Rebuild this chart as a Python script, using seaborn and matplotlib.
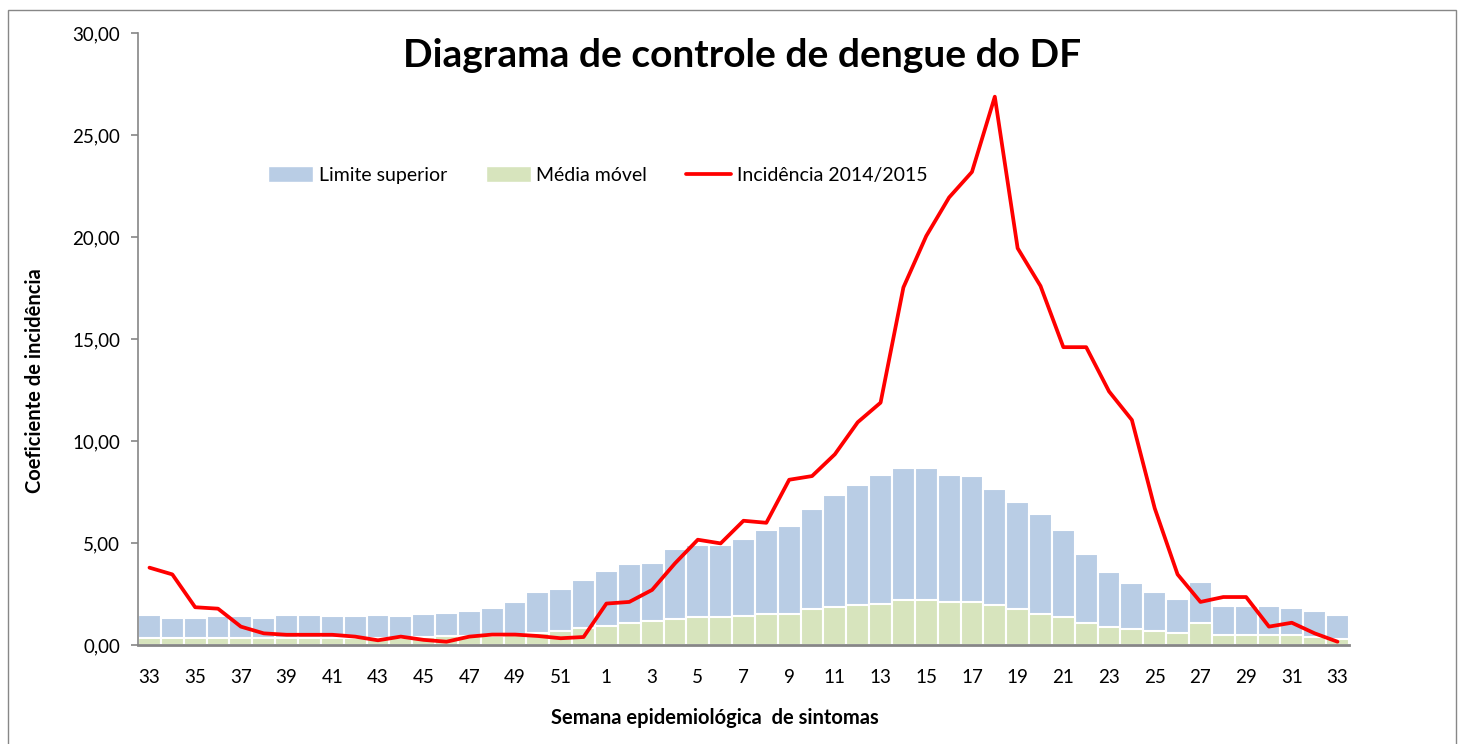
import numpy as np
import pandas as pd
import seaborn as sns
import matplotlib.pyplot as plt
from matplotlib.patches import Patch, Rectangle
from matplotlib.lines import Line2D

# Semanas epidemiologicas: 33/2014 ate 33/2015
semanas = list(range(33, 53)) + list(range(1, 34))

limite_superior = [1.47, 1.30, 1.30, 1.42, 1.42, 1.30, 1.47, 1.47, 1.42, 1.42,
                   1.47, 1.42, 1.50, 1.58, 1.67, 1.83, 2.09, 2.60, 2.76, 3.19,
                   3.61, 3.95, 4.04, 4.72, 4.88, 4.88, 5.21, 5.64, 5.81, 6.67,
                   7.33, 7.84, 8.35, 8.70, 8.70, 8.35, 8.26, 7.67, 7.01, 6.40,
                   5.64, 4.46, 3.60, 3.02, 2.58, 2.24, 3.09, 1.91, 1.91, 1.91,
                   1.83, 1.65, 1.49]

media_movel = [0.33, 0.32, 0.32, 0.33, 0.33, 0.32, 0.33, 0.33, 0.33, 0.32,
               0.33, 0.35, 0.40, 0.45, 0.45, 0.46, 0.47, 0.60, 0.68, 0.85,
               0.93, 1.09, 1.18, 1.26, 1.37, 1.37, 1.41, 1.50, 1.50, 1.76,
               1.85, 1.94, 2.03, 2.20, 2.20, 2.11, 2.11, 1.95, 1.75, 1.50,
               1.36, 1.09, 0.90, 0.77, 0.69, 0.57, 1.09, 0.47, 0.47, 0.47,
               0.47, 0.39, 0.29]

incidencia = [3.79, 3.46, 1.85, 1.78, 0.90, 0.57, 0.50, 0.50, 0.50, 0.41,
              0.23, 0.41, 0.25, 0.16, 0.41, 0.51, 0.51, 0.44, 0.33, 0.39,
              2.03, 2.11, 2.70, 4.00, 5.16, 4.98, 6.09, 5.99, 8.10, 8.28,
              9.35, 10.92, 11.88, 17.53, 20.05, 21.94, 23.19, 26.88, 19.45, 17.60,
              14.60, 14.60, 12.43, 11.03, 6.70, 3.46, 2.11, 2.35, 2.35, 0.90,
              1.09, 0.57, 0.16]

y_ticks = [0, 5, 10, 15, 20, 25, 30]
y_tick_labels = ['0,00', '5,00', '10,00', '15,00', '20,00', '25,00', '30,00']

df = pd.DataFrame({'pos': range(len(semanas)), 'semana': semanas,
                   'limite': limite_superior, 'media': media_movel,
                   'incid': incidencia})

azul = '#B9CDE5'
verde = '#D7E4BD'
vermelho = '#FF0000'

sns.set_style('white')
plt.rcParams['font.family'] = ['Lato', 'DejaVu Sans']
plt.rcParams['text.color'] = 'black'
plt.rcParams['xtick.labelcolor'] = 'black'
plt.rcParams['ytick.labelcolor'] = 'black'

fig = plt.figure(figsize=(14.64, 7.44), dpi=100)
ax = fig.add_axes([0.0943, 0.1331, 0.8271, 0.8225])

sns.barplot(data=df, x='pos', y='limite', color=azul, saturation=1, width=1,
            edgecolor='white', linewidth=1.5, ax=ax)
sns.barplot(data=df, x='pos', y='media', color=verde, saturation=1, width=1,
            edgecolor='white', linewidth=1.5, ax=ax)
sns.lineplot(data=df, x='pos', y='incid', color=vermelho, linewidth=2.7, ax=ax)

ax.set_xlim(-0.5, len(semanas) - 0.5)
ax.set_ylim(0, 30)
ax.set_yticks(y_ticks)
ax.set_yticklabels(y_tick_labels, fontsize=13.5, color='black')
ax.set_xticks(df['pos'][::2])
ax.set_xticklabels(df['semana'][::2], fontsize=13.5, color='black')
ax.tick_params(axis='x', length=0, pad=17)
ax.tick_params(axis='y', length=5, color='#868686', width=1.2, left=True, pad=8)
ax.set_xlabel('')
ax.set_ylabel('')

for s in ['top', 'right']:
    ax.spines[s].set_visible(False)
ax.spines['left'].set_color('#868686')
ax.spines['left'].set_linewidth(1.2)
ax.spines['bottom'].set_color('#868686')
ax.spines['bottom'].set_linewidth(2)

handles = [Patch(facecolor=azul, edgecolor='white'),
           Patch(facecolor=verde, edgecolor='white'),
           Line2D([0], [0], color=vermelho, linewidth=2.7)]
leg = ax.legend(handles, ['Limite superior', 'Média móvel', 'Incidência 2014/2015'],
                loc='center left', bbox_to_anchor=(0.093, 0.768), ncol=3,
                frameon=False, fontsize=14, handlelength=2.3, handleheight=0.9,
                columnspacing=2.0, handletextpad=0.3)
for t in leg.get_texts():
    t.set_color('black')

fig.text(0.507, 0.925, 'Diagrama de controle de dengue do DF',
         ha='center', va='center', fontsize=28, fontweight='bold', color='black')
fig.text(0.488, 0.035, 'Semana epidemiológica  de sintomas',
         ha='center', va='center', fontsize=14.5, fontweight='bold', color='black')
fig.text(0.024, 0.488, 'Coeficiente de incidência', rotation=90,
         ha='center', va='center', fontsize=14.5, fontweight='bold', color='black')

fig.add_artist(Rectangle((8 / 1464, -0.01), 1448 / 1464, 1 - 10 / 744 + 0.01,
                         transform=fig.transFigure, fill=False,
                         edgecolor='#878787', linewidth=1))

fig.savefig('out.png', dpi=100)
